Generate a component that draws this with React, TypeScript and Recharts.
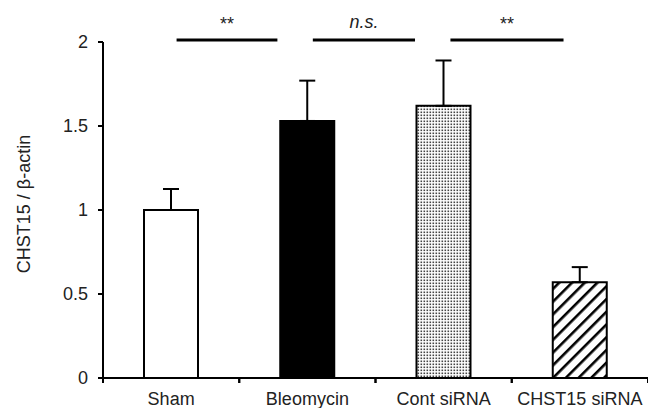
import React from 'react';
import { BarChart, Bar, XAxis, YAxis, Cell, ErrorBar, ReferenceLine, Label } from 'recharts';

const categories = ['Sham', 'Bleomycin', 'Cont siRNA', 'CHST15 siRNA'];
const positions = [0.5, 1.5, 2.5, 3.5];
const means = [1.0, 1.53, 1.62, 0.57];
const errUp = [0.125, 0.24, 0.27, 0.09];
const fills = ['#ffffff', '#000000', 'url(#dots)', 'url(#hatch)'];
const yTicks = [0, 0.5, 1, 1.5, 2];

// significance brackets (x in category units, 0..4)
const sigFrom = [0.54, 1.54, 2.55];
const sigTo = [1.28, 2.29, 3.38];
const sigLabels = ['**', 'n.s.', '**'];
const sigItalic = [false, true, false];
const sigY = 2.012;

const data = categories.map((c, i) => ({ name: c, pos: positions[i], value: means[i], err: [0, errUp[i]] }));

const FONT = '"Liberation Sans", Arial, sans-serif';

const XTick = (props: any) => {
  const { x, y, payload } = props;
  const half = payload && typeof payload.offset === 'number' && payload.offset > 0 ? payload.offset : 68.125;
  return (
    <g>
      <line x1={x - half} x2={x - half} y1={y} y2={y + 5} stroke="#000" strokeWidth={2} />
      <line x1={x + half} x2={x + half} y1={y} y2={y + 5} stroke="#000" strokeWidth={2} />
      <text x={x} y={y + 27} textAnchor="middle" fontSize={18} fill="#222" fontFamily={FONT}>
        {payload.value}
      </text>
    </g>
  );
};

const YLabel = () => (
  <text
    x={24}
    y={204}
    transform="rotate(-90 24 204)"
    textAnchor="middle"
    dominantBaseline="central"
    fontSize={18}
    fill="#222"
    fontFamily={FONT}
  >
    CHST15 / β-actin
  </text>
);

export default function App() {
  return (
    <div style={{ position: 'absolute', left: 0, top: 0, background: '#fff' }}>
      <BarChart
        width={648}
        height={408}
        data={data}
        margin={{ top: 42, right: 0, bottom: 0, left: 0 }}
        barCategoryGap={0}
      >
        <defs>
          <pattern id="dots" width={3} height={3} patternUnits="userSpaceOnUse">
            <rect x={0} y={0} width={3} height={3} fill="#fff" />
            <rect x={0.5} y={0.5} width={1.6} height={1.6} fill="#444" />
          </pattern>
          <pattern id="hatch" width={9} height={9} patternUnits="userSpaceOnUse" patternTransform="rotate(45)">
            <rect x={0} y={0} width={9} height={9} fill="#fff" />
            <rect x={0} y={0} width={2.6} height={9} fill="#000" />
          </pattern>
        </defs>
        <XAxis
          dataKey="name"
          type="category"
          height={30}
          tickSize={0}
          tickMargin={0}
          tickLine={false}
          axisLine={{ stroke: '#000', strokeWidth: 2 }}
          tick={<XTick />}
          interval={0}
        />
        <XAxis xAxisId="num" dataKey="pos" type="number" domain={[0, 4]} allowDataOverflow hide />
        <YAxis
          type="number"
          domain={[0, 2]}
          ticks={yTicks}
          width={103}
          tickSize={5}
          tickMargin={10}
          interval={0}
          axisLine={{ stroke: '#000', strokeWidth: 2 }}
          tickLine={{ stroke: '#000', strokeWidth: 2 }}
          tick={{ fontSize: 18, fill: '#222', fontFamily: FONT }}
        >
          <Label content={<YLabel />} />
        </YAxis>
        <Bar dataKey="value" barSize={54} stroke="#000" strokeWidth={2} isAnimationActive={false}>
          {data.map((d, i) => (
            <Cell key={d.name} fill={fills[i]} />
          ))}
          <ErrorBar dataKey="err" width={8} stroke="#000" strokeWidth={2} direction="y" isAnimationActive={false} />
        </Bar>
        {sigLabels.map((lab, i) => (
          <ReferenceLine
            key={i}
            xAxisId="num"
            ifOverflow="visible"
            segment={[
              { x: sigFrom[i], y: sigY },
              { x: sigTo[i], y: sigY },
            ]}
            stroke="#000"
            strokeWidth={3}
            label={{
              value: lab,
              position: 'top',
              offset: sigItalic[i] ? 12 : 10,
              fontSize: 18,
              fill: '#222',
              fontFamily: FONT,
              fontStyle: sigItalic[i] ? 'italic' : 'normal',
            }}
          />
        ))}
      </BarChart>
    </div>
  );
}
